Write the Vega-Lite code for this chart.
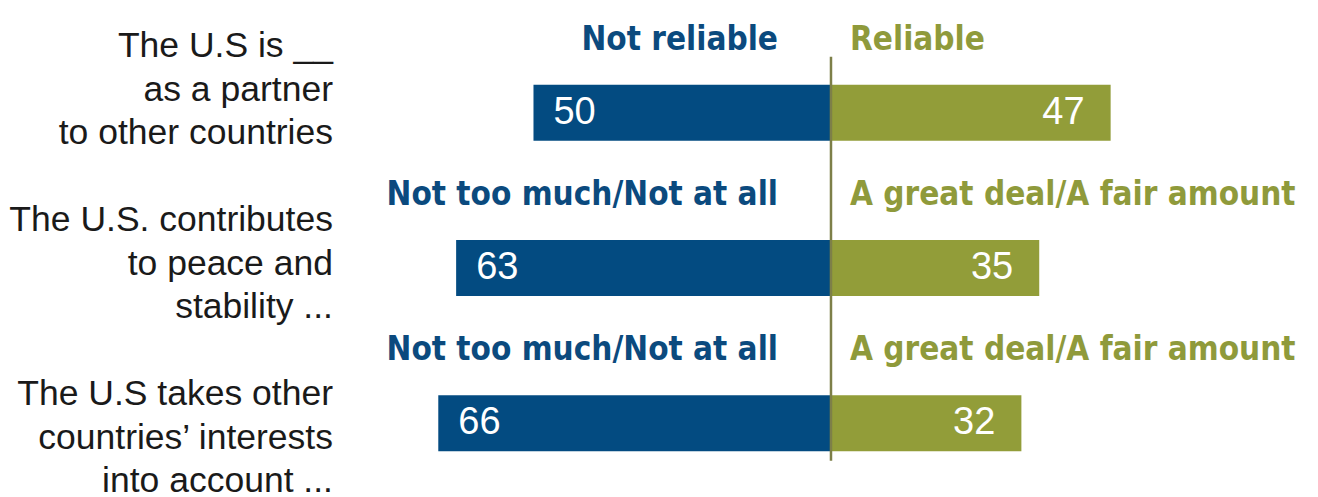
{
  "$schema": "https://vega.github.io/schema/vega-lite/v6.json",
  "width": 1318,
  "height": 497,
  "padding": 0,
  "autosize": {"type": "none"},
  "background": "white",
  "config": {"view": {"stroke": null}},
  "datasets": {
    "bars": [
      {"row": 0, "side": "neg", "value": -50, "pct": 50},
      {"row": 0, "side": "pos", "value": 47, "pct": 47},
      {"row": 1, "side": "neg", "value": -63, "pct": 63},
      {"row": 1, "side": "pos", "value": 35, "pct": 35},
      {"row": 2, "side": "neg", "value": -66, "pct": 66},
      {"row": 2, "side": "pos", "value": 32, "pct": 32}
    ],
    "headers": [
      {"row": 0, "side": "neg", "label": "Not reliable"},
      {"row": 0, "side": "pos", "label": "Reliable"},
      {"row": 1, "side": "neg", "label": "Not too much/Not at all"},
      {"row": 1, "side": "pos", "label": "A great deal/A fair amount"},
      {"row": 2, "side": "neg", "label": "Not too much/Not at all"},
      {"row": 2, "side": "pos", "label": "A great deal/A fair amount"}
    ],
    "questions": [
      {"row": 0, "lines": ["The U.S is __\u00a0", "as a partner\u00a0", "to other countries"]},
      {"row": 1, "lines": ["The U.S. contributes", "to peace and\u00a0", "stability ..."]},
      {"row": 2, "lines": ["The U.S takes other", "countries\u2019 interests", "into account ..."]}
    ]
  },
  "resolve": {"scale": {"y": "independent"}},
  "layer": [
    {
      "layer": [
        {
          "data": {"name": "bars"},
          "mark": {"type": "bar", "height": 56},
          "encoding": {
            "x": {"field": "value", "type": "quantitative", "scale": {"domain": [-139.66, 81.85], "nice": false, "zero": false}, "axis": null},
            "x2": {"datum": 0},
            "y": {"field": "row", "type": "quantitative", "scale": {"domain": [-0.694, 2.442], "nice": false, "zero": false, "reverse": true}, "axis": null},
            "color": {"field": "side", "type": "nominal", "scale": {"domain": ["neg", "pos"], "range": ["#034b81", "#929d39"]}, "legend": null}
          }
        },
        {
          "data": {"values": [{}]},
          "mark": {"type": "rule", "color": "#7d7f48", "strokeWidth": 2.5},
          "encoding": {
            "x": {"datum": 0},
            "y": {"datum": -0.36},
            "y2": {"datum": 2.24}
          }
        },
        {
          "data": {"name": "bars"},
          "transform": [{"filter": "datum.side === 'neg'"}],
          "mark": {"type": "text", "align": "left", "baseline": "middle", "dx": 20, "font": "Liberation Sans", "fontSize": 38, "color": "white"},
          "encoding": {
            "x": {"field": "value", "type": "quantitative"},
            "y": {"field": "row", "type": "quantitative"},
            "text": {"field": "pct", "type": "quantitative"}
          }
        },
        {
          "data": {"name": "bars"},
          "transform": [{"filter": "datum.side === 'pos'"}],
          "mark": {"type": "text", "align": "right", "baseline": "middle", "dx": -26, "font": "Liberation Sans", "fontSize": 38, "color": "white"},
          "encoding": {
            "x": {"field": "value", "type": "quantitative"},
            "y": {"field": "row", "type": "quantitative"},
            "text": {"field": "pct", "type": "quantitative"}
          }
        },
        {
          "data": {"name": "headers"},
          "transform": [{"filter": "datum.side === 'neg'"}],
          "mark": {"type": "text", "align": "right", "baseline": "alphabetic", "dx": -53, "dy": -63, "font": "DejaVu Sans Condensed", "fontWeight": "bold", "fontSize": 33, "color": "#0b4a7e"},
          "encoding": {
            "x": {"datum": 0},
            "y": {"field": "row", "type": "quantitative"},
            "text": {"field": "label"}
          }
        },
        {
          "data": {"name": "headers"},
          "transform": [{"filter": "datum.side === 'pos'"}],
          "mark": {"type": "text", "align": "left", "baseline": "alphabetic", "dx": 19, "dy": -63, "font": "DejaVu Sans Condensed", "fontWeight": "bold", "fontSize": 33, "color": "#8f9a3b"},
          "encoding": {
            "x": {"datum": 0},
            "y": {"field": "row", "type": "quantitative"},
            "text": {"field": "label"}
          }
        }
      ]
    },
    {
      "data": {"name": "questions"},
      "mark": {"type": "text", "align": "right", "baseline": "alphabetic", "lineHeight": 43.5, "font": "Liberation Sans", "fontSize": 35.5, "color": "#1a1a1a"},
      "encoding": {
        "x": {"datum": -83.7},
        "y": {"field": "row", "type": "quantitative", "scale": {"domain": [-0.329, 2.527], "nice": false, "zero": false, "reverse": true}, "axis": null},
        "text": {"field": "lines"}
      }
    }
  ]
}
